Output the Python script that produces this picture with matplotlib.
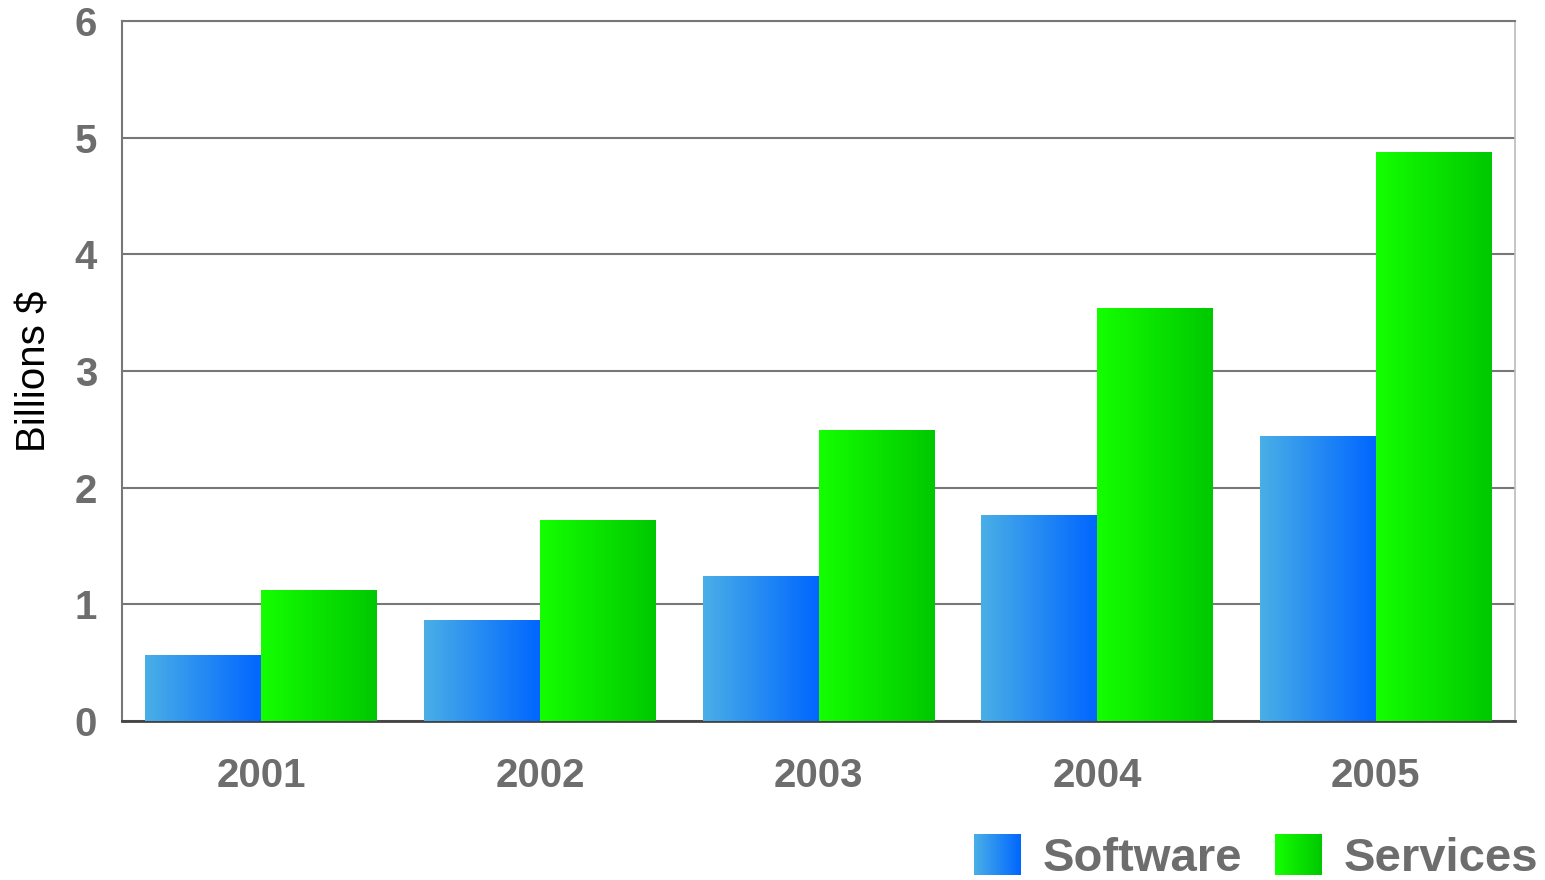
import numpy as np
import matplotlib
matplotlib.use('Agg')
import matplotlib.pyplot as plt
from matplotlib.colors import LinearSegmentedColormap
from matplotlib.legend_handler import HandlerBase
from matplotlib.image import BboxImage
from matplotlib.transforms import Bbox, TransformedBbox
from matplotlib.patches import Rectangle

years = ['2001', '2002', '2003', '2004', '2005']
software = [0.56, 0.86, 1.24, 1.765, 2.44]
services = [1.115, 1.715, 2.49, 3.54, 4.875]

plt.rcParams['font.family'] = ['Liberation Sans', 'DejaVu Sans']

soft_cmap = LinearSegmentedColormap.from_list('soft', ['#4AAFE6', '#0066FF'])
serv_cmap = LinearSegmentedColormap.from_list('serv', ['#14FF00', '#00C800'])
grad = np.linspace(0, 1, 256).reshape(1, -1)

fig = plt.figure(figsize=(15.45, 8.8), dpi=100)
ax = fig.add_axes([122/1545, 1-721/880, (1515-122)/1545, 700/880])

x = np.arange(len(years))
w = 0.416
bars1 = ax.bar(x - w/2, software, w, color='none', zorder=3)
bars2 = ax.bar(x + w/2, services, w, color='none', zorder=3)

# gradient fill for each bar
for bars, cmap in [(bars1, soft_cmap), (bars2, serv_cmap)]:
    for b in bars:
        bx, by = b.get_x(), b.get_y()
        bw, bh = b.get_width(), b.get_height()
        ax.imshow(grad, extent=[bx, bx + bw, by, by + bh], aspect='auto',
                  cmap=cmap, zorder=3, interpolation='bilinear')

ax.set_xlim(-0.5, len(years) - 0.5)
ax.set_ylim(0, 6)
ax.set_yticks(range(0, 7))
ax.set_xticks(x)
ax.set_xticklabels(years)

ax.grid(axis='y', color='#777777', linewidth=1.5, zorder=1)
ax.set_axisbelow(True)
ax.tick_params(axis='both', length=0, labelsize=29, labelcolor='#6d6d6d')
ax.tick_params(axis='y', pad=18)
ax.tick_params(axis='x', pad=26)
for lab in ax.get_xticklabels() + ax.get_yticklabels():
    lab.set_fontweight('bold')

ax.spines['left'].set_color('#777777')
ax.spines['left'].set_linewidth(1.5)
ax.spines['top'].set_color('#777777')
ax.spines['top'].set_linewidth(1.5)
ax.spines['right'].set_color('#bbbbbb')
ax.spines['right'].set_linewidth(1.2)
ax.spines['bottom'].set_color('#444444')
ax.spines['bottom'].set_linewidth(2)

ax.set_ylabel('Billions $', fontsize=29, color='black', labelpad=15)


class GradHandler(HandlerBase):
    def __init__(self, cmap):
        super().__init__()
        self.cmap = cmap

    def create_artists(self, legend, orig_handle, xdescent, ydescent,
                       width, height, fontsize, trans):
        bb = Bbox.from_bounds(-xdescent, -ydescent, width, height)
        img = BboxImage(TransformedBbox(bb, trans), cmap=self.cmap,
                        interpolation='bilinear')
        img.set_data(grad)
        return [img]


h1 = Rectangle((0, 0), 1, 1)
h2 = Rectangle((0, 0), 1, 1)
leg = fig.legend([h1, h2], ['Software', 'Services'],
                 handler_map={h1: GradHandler(soft_cmap), h2: GradHandler(serv_cmap)},
                 loc='center right', bbox_to_anchor=(1538/1545, 1 - 858/880),
                 ncol=2, frameon=False, borderpad=0, borderaxespad=0,
                 handlelength=0.98, handleheight=0.94, handletextpad=0.47,
                 columnspacing=0.7,
                 prop={'size': 34, 'weight': 'bold'})
for t in leg.get_texts():
    t.set_color('#6d6d6d')

fig.savefig('out.png', dpi=100)
